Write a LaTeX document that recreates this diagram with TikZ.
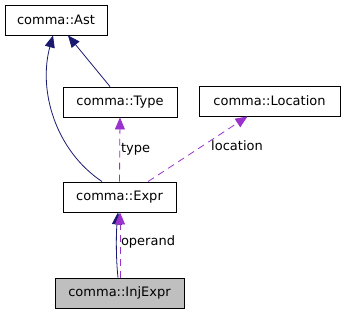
\documentclass[tikz,border=0pt]{standalone}
\usepackage{fontspec}
\setmainfont{DejaVu Sans}
\usetikzlibrary{arrows.meta}
\definecolor{edgeblue}{RGB}{25,25,112}
\definecolor{edgepurple}{RGB}{154,50,205}
\definecolor{boxgrey}{RGB}{191,191,191}
\tikzset{
  cls/.style={draw=black, line width=0.9pt, fill=white, minimum height=30pt, inner sep=0pt, font=\fontsize{13}{15}\selectfont},
  inherit/.style={draw=edgeblue, line width=0.8pt, -{Triangle[length=12pt,width=10pt,fill=edgeblue]}},
  usage/.style={draw=edgepurple, line width=0.8pt, dash pattern=on 7pt off 5pt, -{Triangle[length=12pt,width=10pt,fill=edgepurple]}},
  lbl/.style={font=\fontsize{13}{15}\selectfont, inner sep=0pt}
}
\begin{document}
\begin{tikzpicture}[x=1pt,y=-1pt]
\useasboundingbox (0,0) rectangle (344,312);
\node[cls, minimum width=102pt] (ast) at (56,20) {comma::Ast};
\node[cls, minimum width=114pt] (type) at (120,102) {comma::Type};
\node[cls, minimum width=141pt] (loc) at (269.5,101) {comma::Location};
\node[cls, minimum width=113pt] (expr) at (119.5,197) {comma::Expr};
\node[cls, minimum width=129pt, fill=boxgrey] (inj) at (119.5,293) {comma::InjExpr};
% inheritance
\draw[inherit] ([xshift=-10pt]type.north) -- ([xshift=12pt]ast.south);
\draw[inherit] ([xshift=-17.5pt]expr.north) .. controls (55,150) and (38,90) .. ([xshift=-3pt]ast.south);
\draw[inherit] ([xshift=-1.5pt]inj.north) .. controls (116,260) and (116,235) .. ([xshift=-1.5pt]expr.south);
% usage
\draw[usage] (expr.north) -- (type.south) node[lbl, pos=0.5, right=1pt] {type};
\draw[usage] ([xshift=28.5pt]expr.north) -- ([xshift=-22pt]loc.south);
\node[lbl] (loclbl) at (237,146) {location};
\draw[usage] ([xshift=0.5pt]inj.north) -- ([xshift=0.5pt]expr.south);
\node[lbl] (oplbl) at (148,242) {operand};
\end{tikzpicture}
\end{document}
